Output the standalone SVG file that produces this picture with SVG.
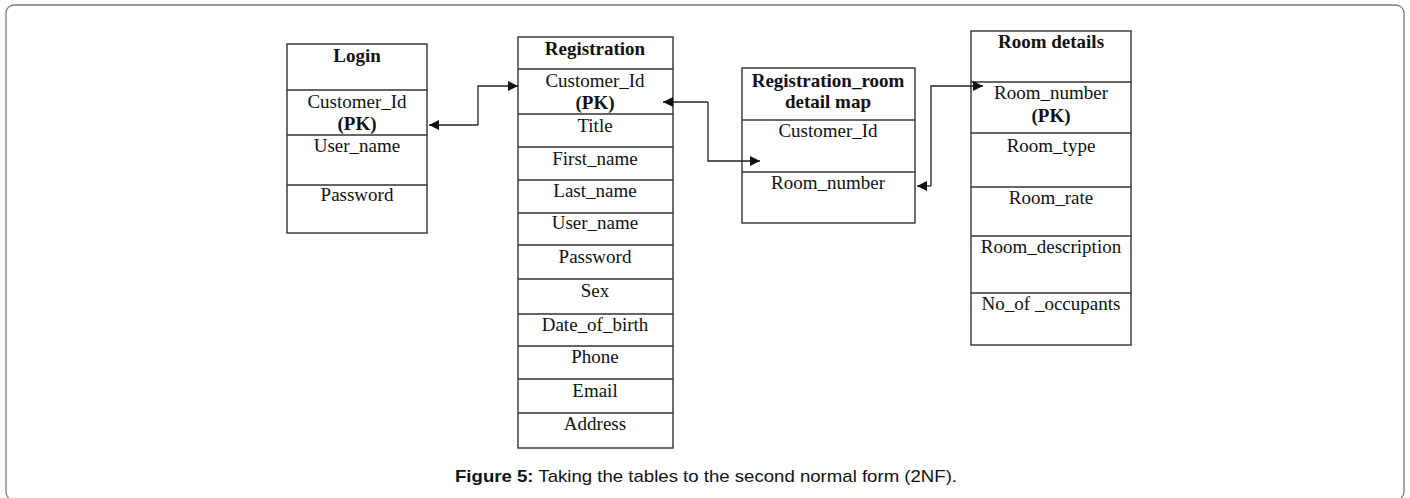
<svg xmlns="http://www.w3.org/2000/svg" width="1410" height="498" viewBox="0 0 1410 498">
  <style>
    .frame { fill: #fff; stroke: #7a7a7a; stroke-width: 1.3; }
    .box { fill: #fff; stroke: #333; stroke-width: 1.4; }
    .sep { stroke: #333; stroke-width: 1.4; }
    .t { font-family: "Liberation Serif", "Times New Roman", serif; font-size: 19px; fill: #111; text-anchor: middle; }
    .b { font-weight: bold; }
    .link { fill: none; stroke: #222; stroke-width: 1.3; }
    .cap { font-family: "Liberation Sans", Arial, sans-serif; font-size: 17px; fill: #111; }
  </style>
  <defs>
    <marker id="arrow" viewBox="0 0 10 10" refX="10" refY="5" markerWidth="10" markerHeight="10" markerUnits="userSpaceOnUse" orient="auto">
      <path d="M0,0 L10,5 L0,10 z" fill="#111"/>
    </marker>
  </defs>

  <rect class="frame" x="6" y="5" width="1398" height="495" rx="8"/>

  <!-- Login table -->
  <g id="login">
    <rect class="box" x="287" y="44" width="140" height="189"/>
    <line class="sep" x1="287" y1="90" x2="427" y2="90"/>
    <line class="sep" x1="287" y1="135" x2="427" y2="135"/>
    <line class="sep" x1="287" y1="185" x2="427" y2="185"/>
    <text class="t b" x="357" y="62">Login</text>
    <text class="t" x="357" y="108">Customer_Id</text>
    <text class="t b" x="357" y="130">(PK)</text>
    <text class="t" x="357" y="152">User_name</text>
    <text class="t" x="357" y="201">Password</text>
  </g>

  <!-- Registration table -->
  <g id="registration">
    <rect class="box" x="518" y="37" width="155" height="411"/>
    <line class="sep" x1="518" y1="69" x2="673" y2="69"/>
    <line class="sep" x1="518" y1="114" x2="673" y2="114"/>
    <line class="sep" x1="518" y1="147" x2="673" y2="147"/>
    <line class="sep" x1="518" y1="180" x2="673" y2="180"/>
    <line class="sep" x1="518" y1="213" x2="673" y2="213"/>
    <line class="sep" x1="518" y1="245" x2="673" y2="245"/>
    <line class="sep" x1="518" y1="279" x2="673" y2="279"/>
    <line class="sep" x1="518" y1="314" x2="673" y2="314"/>
    <line class="sep" x1="518" y1="346" x2="673" y2="346"/>
    <line class="sep" x1="518" y1="379" x2="673" y2="379"/>
    <line class="sep" x1="518" y1="413" x2="673" y2="413"/>
    <text class="t b" x="595" y="55">Registration</text>
    <text class="t" x="595" y="87">Customer_Id</text>
    <text class="t b" x="595" y="109">(PK)</text>
    <text class="t" x="595" y="132">Title</text>
    <text class="t" x="595" y="165">First_name</text>
    <text class="t" x="595" y="197">Last_name</text>
    <text class="t" x="595" y="229">User_name</text>
    <text class="t" x="595" y="263">Password</text>
    <text class="t" x="595" y="297">Sex</text>
    <text class="t" x="595" y="331">Date_of_birth</text>
    <text class="t" x="595" y="363">Phone</text>
    <text class="t" x="595" y="397">Email</text>
    <text class="t" x="595" y="430">Address</text>
  </g>

  <!-- Registration_room detail map table -->
  <g id="registration-room-map">
    <rect class="box" x="742" y="68" width="173" height="155"/>
    <line class="sep" x1="742" y1="120" x2="915" y2="120"/>
    <line class="sep" x1="742" y1="172" x2="915" y2="172"/>
    <text class="t b" x="828" y="87">Registration_room</text>
    <text class="t b" x="828" y="108">detail map</text>
    <text class="t" x="828" y="137">Customer_Id</text>
    <text class="t" x="828" y="189">Room_number</text>
  </g>

  <!-- Room details table -->
  <g id="room-details">
    <rect class="box" x="971" y="31" width="160" height="314"/>
    <line class="sep" x1="971" y1="82" x2="1131" y2="82"/>
    <line class="sep" x1="971" y1="133" x2="1131" y2="133"/>
    <line class="sep" x1="971" y1="187" x2="1131" y2="187"/>
    <line class="sep" x1="971" y1="236" x2="1131" y2="236"/>
    <line class="sep" x1="971" y1="293" x2="1131" y2="293"/>
    <text class="t b" x="1051" y="48">Room details</text>
    <text class="t" x="1051" y="99">Room_number</text>
    <text class="t b" x="1051" y="122">(PK)</text>
    <text class="t" x="1051" y="152">Room_type</text>
    <text class="t" x="1051" y="204">Room_rate</text>
    <text class="t" x="1051" y="253">Room_description</text>
    <text class="t" x="1051" y="310">No_of _occupants</text>
  </g>

  <!-- Relationship connectors (double-headed) -->
  <g id="connectors">
    <path class="link" d="M478,125 L429,125" marker-end="url(#arrow)"/>
    <path class="link" d="M478,125 L478,86 L518,86" marker-end="url(#arrow)"/>
    <path class="link" d="M708,102 L663,102" marker-end="url(#arrow)"/>
    <path class="link" d="M708,102 L708,161 L760,161" marker-end="url(#arrow)"/>
    <path class="link" d="M931,186 L917,186" marker-end="url(#arrow)"/>
    <path class="link" d="M931,186 L931,86 L983,86" marker-end="url(#arrow)"/>
  </g>

  <text class="cap" x="455" y="482" textLength="502" lengthAdjust="spacingAndGlyphs"><tspan font-weight="bold">Figure 5:</tspan> Taking the tables to the second normal form (2NF).</text>
</svg>
